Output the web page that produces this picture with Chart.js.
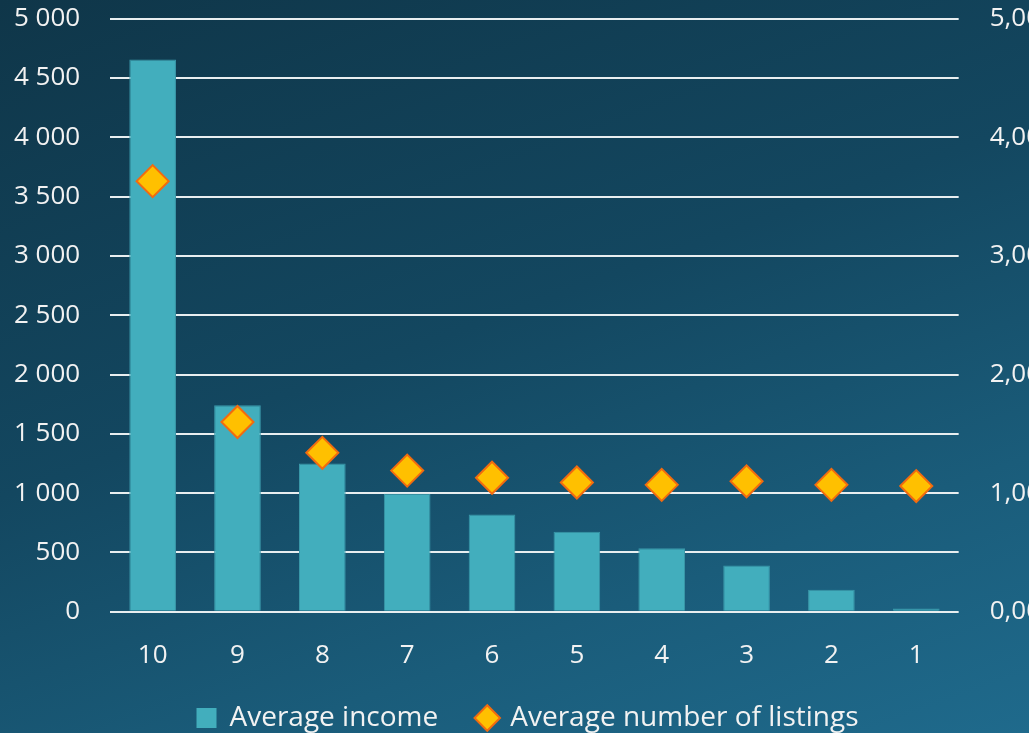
<!DOCTYPE html>
<html>
<head>
<meta charset="utf-8">
<script src="https://cdn.jsdelivr.net/npm/chart.js@4/dist/chart.umd.min.js"></script>
<style>
    html, body { margin: 0; padding: 0; overflow: hidden; }
    body {
        width: 1029px; height: 733px;
        background: linear-gradient(160deg, #0f3649 0%, #134760 45%, #1a5c7a 75%, #1f6a8c 100%);
    }
    #wrap { position: absolute; left: -16px; top: -28px; width: 1088px; height: 770px; }
</style>
</head>
<body>
<div id="wrap"><canvas id="chart" width="1088" height="770"></canvas></div>
<script>
// بيانات الرسم
const categories = ['10', '9', '8', '7', '6', '5', '4', '3', '2', '1'];
const averageIncome = [4655, 1740, 1250, 995, 820, 675, 535, 390, 185, 28];
const averageListings = [3.63, 1.60, 1.34, 1.19, 1.13, 1.09, 1.07, 1.10, 1.07, 1.06];
const leftTicks = [0, 500, 1000, 1500, 2000, 2500, 3000, 3500, 4000, 4500, 5000];
const rightTicks = [0, 1, 2, 3, 4, 5];

const fontFamily = "'Open Sans', 'DejaVu Sans', sans-serif";
const textColor = '#f2f2f2';

function formatThousands(v) {
    return String(v).replace(/\B(?=(\d{3})+(?!\d))/g, ' ');
}

new Chart(document.getElementById('chart'), {
    data: {
        labels: categories,
        datasets: [
            {
                type: 'line',
                label: 'Average number of listings',
                data: averageListings,
                yAxisID: 'y2',
                pointStyle: 'rectRot',
                pointRadius: 16,
                pointHoverRadius: 16,
                pointBackgroundColor: '#ffc000',
                pointBorderColor: '#f26b0f',
                pointBorderWidth: 2,
                backgroundColor: '#ffc000',
                borderColor: '#f26b0f',
                showLine: false,
                order: 0
            },
            {
                type: 'bar',
                label: 'Average income',
                data: averageIncome,
                yAxisID: 'y',
                backgroundColor: '#42aebd',
                borderColor: '#3a97a8',
                borderWidth: 1,
                barPercentage: 0.55,
                categoryPercentage: 1,
                order: 1
            }
        ]
    },
    options: {
        responsive: false,
        animation: false,
        devicePixelRatio: 1,
        layout: { padding: 0 },
        plugins: {
            tooltip: { enabled: false },
            legend: {
                position: 'bottom',
                reverse: true,
                align: 'center',
                labels: {
                    color: textColor,
                    font: { family: fontFamily, size: 28 },
                    usePointStyle: true,
                    boxWidth: 18,
                    boxHeight: 18,
                    padding: 40,
                    generateLabels: function(chart) {
                        return chart.data.datasets.map((ds, i) => ({
                            text: ds.label,
                            fillStyle: ds.backgroundColor,
                            strokeStyle: ds.type === 'bar' ? ds.backgroundColor : ds.borderColor,
                            lineWidth: 2,
                            pointStyle: ds.type === 'bar' ? 'rect' : 'rectRot',
                            fontColor: textColor,
                            datasetIndex: i
                        }));
                    }
                }
            }
        },
        scales: {
            x: {
                type: 'category',
                offset: true,
                grid: { display: false },
                border: { display: false },
                afterFit: axis => { axis.height -= 27; },
                ticks: {
                    color: textColor,
                    font: { family: fontFamily, size: 26 },
                    padding: 20,
                    maxRotation: 0
                }
            },
            y: {
                position: 'left',
                min: 0,
                max: 5000,
                afterBuildTicks: axis => { axis.ticks = leftTicks.map(v => ({ value: v })); },
                grid: { color: '#e8eef0', lineWidth: 2, drawTicks: false },
                border: { display: false },
                ticks: {
                    color: textColor,
                    font: { family: fontFamily, size: 26 },
                    padding: 30,
                    callback: v => formatThousands(v)
                }
            },
            y2: {
                position: 'right',
                min: 0,
                max: 5,
                afterBuildTicks: axis => { axis.ticks = rightTicks.map(v => ({ value: v })); },
                grid: { display: false, drawTicks: false },
                border: { display: false },
                ticks: {
                    color: textColor,
                    font: { family: fontFamily, size: 26 },
                    padding: 31,
                    callback: v => v.toFixed(2).replace('.', ',')
                }
            }
        }
    }
});
</script>
</body>
</html>
